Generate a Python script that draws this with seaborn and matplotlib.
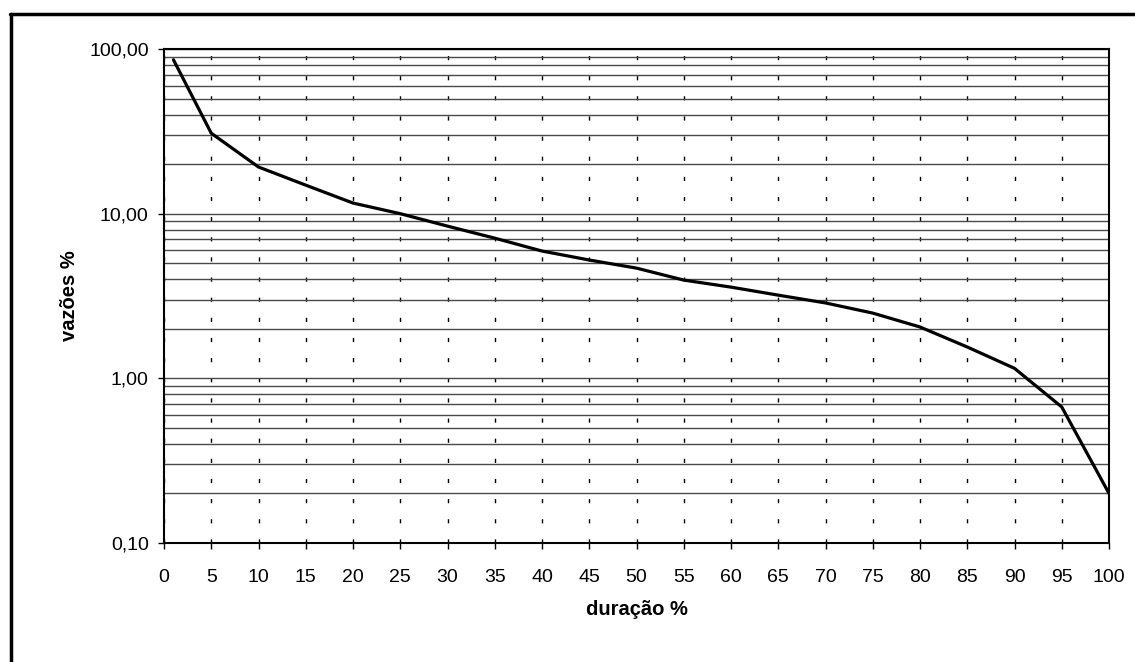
import matplotlib
matplotlib.use("Agg")
import matplotlib.pyplot as plt
import matplotlib.ticker as mticker
from matplotlib.lines import Line2D
import seaborn as sns
import pandas as pd

duracao = [1, 5, 10, 15, 20, 25, 30, 35, 40, 45, 50, 55, 60, 65, 70, 75, 80, 85, 90, 95, 100]
vazoes = [86.0, 30.8, 19.2, 14.9, 11.6, 10.0, 8.4, 7.1, 5.93, 5.23, 4.67, 3.95, 3.58, 3.2,
          2.87, 2.49, 2.05, 1.55, 1.15, 0.67, 0.20]
x_ticks = list(range(0, 101, 5))
y_major = [0.1, 1, 10, 100]

sns.set_theme(style="white")
plt.rcParams['font.family'] = ['Liberation Sans', 'DejaVu Sans']

fig = plt.figure(figsize=(11.35, 6.62), dpi=100)
ax = fig.add_axes([164/1135, 1 - 543/662, (1109-164)/1135, (543-49)/662])

df = pd.DataFrame({"duracao": duracao, "vazoes": vazoes})
sns.lineplot(data=df, x="duracao", y="vazoes", ax=ax, color="black", linewidth=2.3)

ax.set_yscale("log")
ax.set_ylim(0.1, 100)
ax.set_xlim(0, 100)
ax.set_xticks(x_ticks)
ax.set_xticklabels([str(t) for t in x_ticks])
ax.yaxis.set_major_locator(mticker.FixedLocator(y_major))
ax.yaxis.set_minor_locator(mticker.LogLocator(base=10, subs=range(2, 10), numticks=20))
ax.yaxis.set_major_formatter(mticker.FuncFormatter(lambda v, p: f"{v:.2f}".replace(".", ",")))
ax.yaxis.set_minor_formatter(mticker.NullFormatter())

ax.grid(False)
ax.yaxis.grid(True, which="both", color="#4a4a4a", linewidth=1.0, linestyle="-")
ax.xaxis.grid(True, which="major", color="black", linewidth=1.0, linestyle=(0, (3, 11.5)))
ax.set_axisbelow(True)

for s in ax.spines.values():
    s.set_visible(True)
    s.set_color("black")
    s.set_linewidth(1.5)

ax.tick_params(axis="both", which="major", direction="out", length=4, width=1,
               color="black", labelsize=14, labelcolor="black", bottom=True, left=True)
ax.tick_params(axis="x", which="major", pad=14.5)
ax.tick_params(axis="y", which="major", pad=7)
ax.tick_params(axis="y", which="minor", length=0)

ax.set_xlabel("duração %", fontsize=14.5, fontweight="bold", labelpad=10, color="black")
ax.set_ylabel("vazões %", fontsize=14.5, fontweight="bold", labelpad=7, color="black")

# outer chart frame (top and left edges visible)
fig.add_artist(Line2D([10/1135, 1], [1 - 14/662, 1 - 14/662], transform=fig.transFigure,
                      color="black", linewidth=2.5))
fig.add_artist(Line2D([11/1135, 11/1135], [0, 1 - 14/662], transform=fig.transFigure,
                      color="black", linewidth=2.5))

fig.savefig("out.png", dpi=100)
